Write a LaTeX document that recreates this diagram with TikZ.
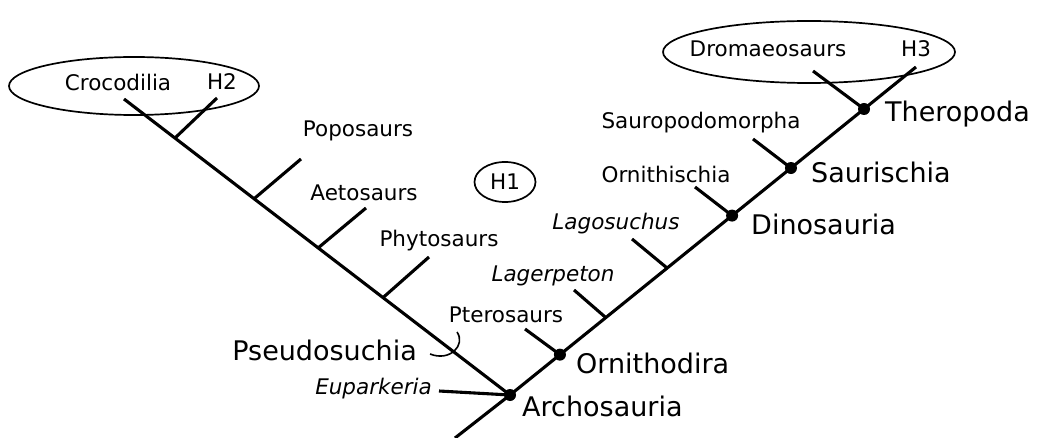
\documentclass[tikz,border=0pt]{standalone}
\usepackage{fontspec}
\setmainfont{DejaVu Sans}
\usetikzlibrary{shapes.geometric, positioning, calc}

\begin{document}
\begin{tikzpicture}[x=1pt, y=-1pt,
  stem/.style={line width=3.1pt},
  clade/.style={circle, fill=black, inner sep=0pt, minimum size=12pt},
  taxon/.style={font=\fontsize{21.5}{25}\selectfont, inner sep=0pt},
  group/.style={font=\fontsize{27}{31}\selectfont, inner sep=0pt},
  hyp/.style={draw, ellipse, line width=1.7pt, inner sep=0pt}]
  \useasboundingbox (0,0) rectangle (1038,438);

  % the two main lines
  \coordinate (root) at (455,438);
  \coordinate (croctip) at (124,99);
  \coordinate (h3tip) at (916,67);
  \node[clade] (archo) at (510,395) {};
  \draw[stem] (root) -- (archo.center) -- (croctip);
  \draw[stem] (archo.center) -- (h3tip);

  % nodes on the avemetatarsalian side
  \node[clade] (ornitho) at ($(archo.center)!0.123!(h3tip)$) {};
  \node[clade] (dino) at ($(archo.center)!0.547!(h3tip)$) {};
  \node[clade] (sauri) at ($(archo.center)!0.692!(h3tip)$) {};
  \node[clade] (thero) at ($(archo.center)!0.872!(h3tip)$) {};
  \coordinate (lagerbase) at ($(archo.center)!0.236!(h3tip)$);
  \coordinate (lagobase) at ($(archo.center)!0.387!(h3tip)$);

  % side branches, right
  \coordinate (pterotip) at (525,329);
  \coordinate (lagertip) at (574,290);
  \coordinate (lagotip) at (632,239);
  \coordinate (ornithtip) at (695,187);
  \coordinate (sauropodtip) at (753,139);
  \coordinate (dromtip) at (813,71);
  \draw[stem] (pterotip) -- (ornitho.center);
  \draw[stem] (lagertip) -- (lagerbase);
  \draw[stem] (lagotip) -- (lagobase);
  \draw[stem] (ornithtip) -- (dino.center);
  \draw[stem] (sauropodtip) -- (sauri.center);
  \draw[stem] (dromtip) -- (thero.center);

  % side branches, left
  \coordinate (h2base) at ($(croctip)!0.132!(archo.center)$);
  \coordinate (popobase) at ($(croctip)!0.337!(archo.center)$);
  \coordinate (aetobase) at ($(croctip)!0.503!(archo.center)$);
  \coordinate (phytobase) at ($(croctip)!0.671!(archo.center)$);
  \coordinate (h2tip) at (217,98);
  \coordinate (popotip) at (301,159);
  \coordinate (aetotip) at (366,208);
  \coordinate (phytotip) at (429,257);
  \coordinate (eupartip) at (439,391);
  \draw[stem] (h2tip) -- (h2base);
  \draw[stem] (popotip) -- (popobase);
  \draw[stem] (aetotip) -- (aetobase);
  \draw[stem] (phytotip) -- (phytobase);
  \draw[stem] (eupartip) -- (archo.center);

  % Pseudosuchia hook
  \coordinate (hooka) at (430,354);
  \coordinate (hookb) at (457,332);
  \draw[line width=1.6pt] (hooka) .. controls (450,362) and (466,345) .. (hookb);

  % hypotheses
  \node[hyp, minimum width=250pt, minimum height=58pt] (h2oval) at (134,86) {};
  \node[hyp, minimum width=292pt, minimum height=62pt] (h3oval) at (809,52) {};
  \node[hyp, minimum width=61pt, minimum height=40pt] (h1oval) at (505,182) {};

  % labels
  \node[taxon] (croc) at (118,82) {Crocodilia};
  \node[taxon] (h2) at (222,82) {H2};
  \node[taxon] (popo) at (358,131) {Poposaurs};
  \node[taxon] (aeto) at (364,193) {Aetosaurs};
  \node[taxon] (phyto) at (439,241) {Phytosaurs};
  \node[taxon] (h1) at (505,182) {H1};
  \node[taxon] (ptero) at (506,315) {Pterosaurs};
  \node[taxon] (lager) at (553,276) {\itshape Lagerpeton};
  \node[taxon] (lago) at (616,224) {\itshape Lagosuchus};
  \node[taxon] (ornith) at (666,174) {Ornithischia};
  \node[taxon] (sauropod) at (701,123) {Sauropodomorpha};
  \node[taxon] (drom) at (768,49) {Dromaeosaurs};
  \node[taxon] (h3) at (916,49) {H3};
  \node[taxon, anchor=east] (eupar) at (432,389) {\itshape Euparkeria};

  \node[group, anchor=east] (pseudo) at (417,350) {Pseudosuchia};
  \node[group, anchor=west] (archolab) at (522,406) {Archosauria};
  \node[group, anchor=west] (ornitholab) at (576,363) {Ornithodira};
  \node[group, anchor=west] (dinolab) at (751,224) {Dinosauria};
  \node[group, anchor=west] (saurilab) at (811,172) {Saurischia};
  \node[group, anchor=west] (therolab) at (885,114) {Theropoda};
\end{tikzpicture}
\end{document}
